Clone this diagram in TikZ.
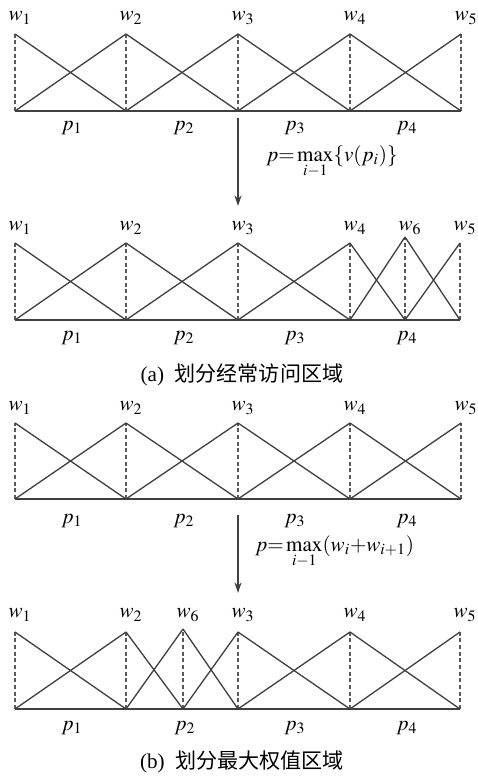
\documentclass[tikz,border=0pt]{standalone}
\usepackage{mathptmx}
\usepackage{fontspec}
\setmainfont{Liberation Serif}
\newfontfamily\cjk{Noto Sans CJK SC}
\usetikzlibrary{arrows.meta}

\tikzset{
  tri/.style={draw=black!75,line width=0.75pt},
  guide/.style={draw=black!65,line width=0.7pt,dash pattern=on 2.2pt off 1.6pt},
  wlab/.style={inner sep=0pt,font=\fontsize{12}{14}\selectfont},
  plab/.style={inner sep=0pt,font=\fontsize{12}{14}\selectfont},
  flow/.style={draw=black!75,line width=0.75pt,-{Stealth[length=6pt,width=4pt]}},
  caption/.style={inner sep=0pt,font=\fontsize{12}{14}\selectfont}
}

\begin{document}
\begin{tikzpicture}[x=0.02cm,y=-0.02cm]
  \useasboundingbox (0,0) rectangle (477,777);

  % panel 1: uniform partition
  \foreach \i/\x in {1/15,2/126,3/238,4/350,5/461} {
    \coordinate (a\i) at (\x,111);
    \coordinate (A\i) at (\x,34);
    \node[wlab] (wa\i) at (\x+5,18) {$w_{\i}$};
    \draw[guide] (a\i) -- (A\i);
  }
  \foreach \i/\j in {1/2,2/3,3/4,4/5} {
    \draw[tri] (A\i) -- (a\j);
    \draw[tri] (a\i) -- (A\j);
  }
  \draw[tri] (a1) -- (a5);
  \foreach \i/\x in {1/72,2/184,3/295,4/407}
    \node[plab] (pa\i) at (\x,128) {$p_{\i}$};

  % arrow 1
  \coordinate (s1) at (238,118);
  \coordinate (e1) at (238,206);
  \draw[flow] (s1) -- (e1);
  \node[inner sep=0pt,anchor=west] (f1) at (266,162)
    {\fontsize{12}{14}\selectfont$p{=}\max\limits_{i-1}\{v(p_i)\}$};

  % panel 2: split most visited region
  \foreach \i/\x/\y in {1/15/243,2/126/243,3/238/243,4/350/243,6/405/237,5/460/243} {
    \coordinate (b\i) at (\x,320);
    \coordinate (B\i) at (\x,\y);
    \node[wlab] (wb\i) at (\x+5,228) {$w_{\i}$};
    \draw[guide] (b\i) -- (B\i);
  }
  \foreach \i/\j in {1/2,2/3,3/4,4/6,6/5} {
    \draw[tri] (B\i) -- (b\j);
    \draw[tri] (b\i) -- (B\j);
  }
  \draw[tri] (b1) -- (b5);
  \foreach \i/\x in {1/72,2/184,3/295,4/407}
    \node[plab] (pb\i) at (\x,338) {$p_{\i}$};
  \node[caption] (capa) at (242,375) {(a)\ \ {\cjk 划分经常访问区域}};

  % panel 3: uniform partition
  \foreach \i/\x in {1/15,2/126,3/238,4/350,5/461} {
    \coordinate (c\i) at (\x,499);
    \coordinate (C\i) at (\x,423);
    \node[wlab] (wc\i) at (\x+5,408) {$w_{\i}$};
    \draw[guide] (c\i) -- (C\i);
  }
  \foreach \i/\j in {1/2,2/3,3/4,4/5} {
    \draw[tri] (C\i) -- (c\j);
    \draw[tri] (c\i) -- (C\j);
  }
  \draw[tri] (c1) -- (c5);
  \foreach \i/\x in {1/72,2/184,3/295,4/407}
    \node[plab] (pc\i) at (\x,521) {$p_{\i}$};

  % arrow 2
  \coordinate (s2) at (238,515);
  \coordinate (e2) at (238,593);
  \draw[flow] (s2) -- (e2);
  \node[inner sep=0pt,anchor=west] (f2) at (255,552)
    {\fontsize{12}{14}\selectfont$p{=}\max\limits_{i-1}(w_i{+}w_{i+1})$};

  % panel 4: split largest weight region
  \foreach \i/\x/\y in {1/15/632,2/126/632,6/183/629,3/238/632,4/350/632,5/460/632} {
    \coordinate (d\i) at (\x,709);
    \coordinate (D\i) at (\x,\y);
    \node[wlab] (wd\i) at (\x+5,615) {$w_{\i}$};
    \draw[guide] (d\i) -- (D\i);
  }
  \foreach \i/\j in {1/2,2/6,6/3,3/4,4/5} {
    \draw[tri] (D\i) -- (d\j);
    \draw[tri] (d\i) -- (D\j);
  }
  \draw[tri] (d1) -- (d5);
  \foreach \i/\x in {1/72,2/185,3/295,4/407}
    \node[plab] (pd\i) at (\x,728) {$p_{\i}$};
  \node[caption] (capb) at (242,762) {(b)\ \ {\cjk 划分最大权值区域}};
\end{tikzpicture}
\end{document}
